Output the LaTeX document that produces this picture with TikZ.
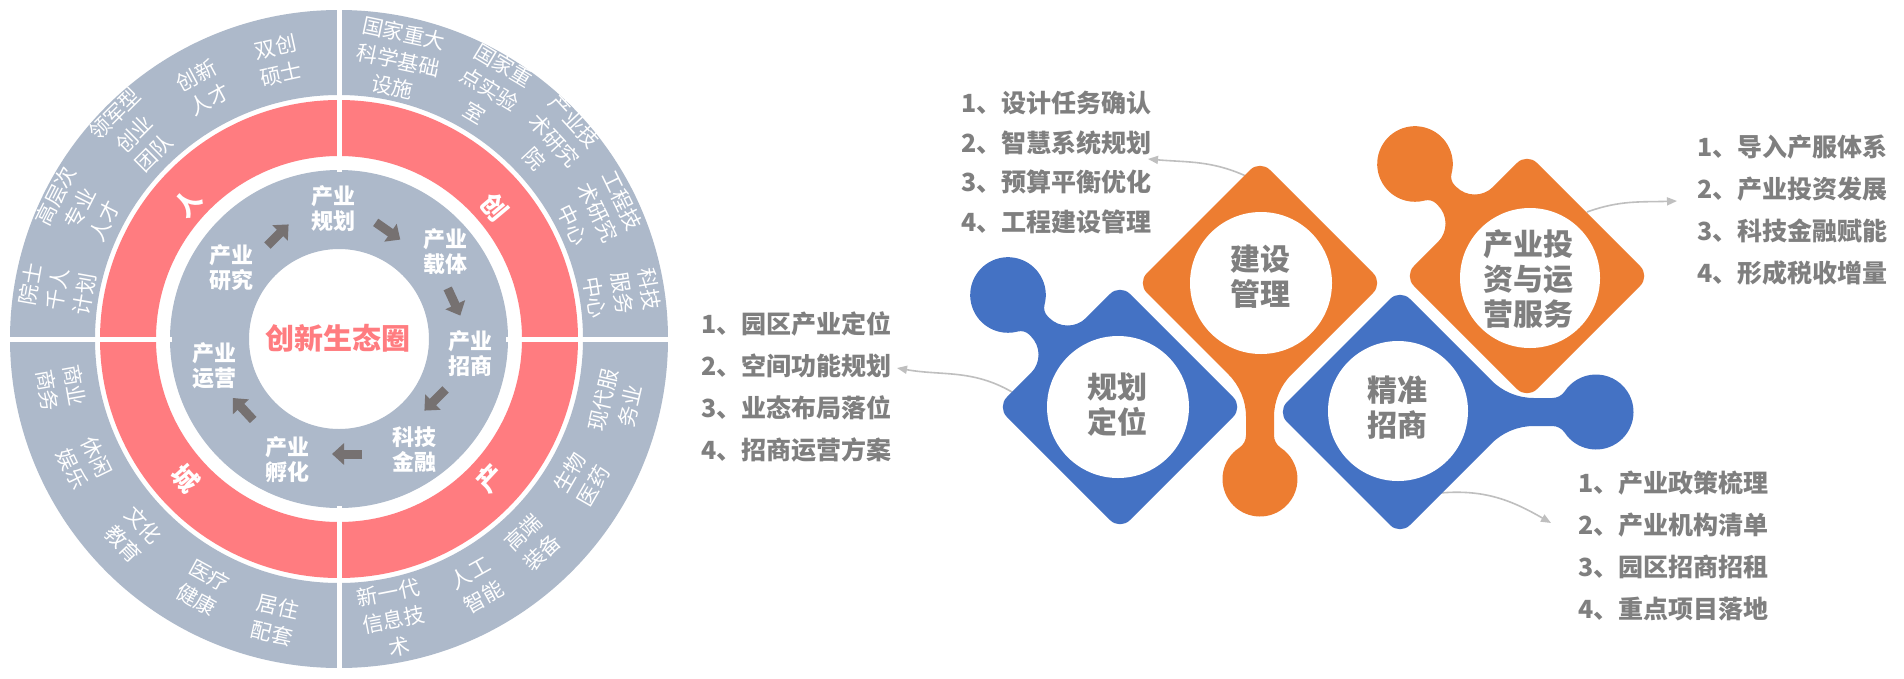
\documentclass[tikz,border=0pt]{standalone}
\usepackage{fontspec}
\setmainfont{Noto Sans CJK SC}
\usetikzlibrary{arrows.meta}
\definecolor{ringgray}{HTML}{ADB9CA}
\definecolor{ringred}{HTML}{FF7C80}
\definecolor{arrgray}{HTML}{767171}
\definecolor{pblue}{HTML}{4472C4}
\definecolor{porange}{HTML}{ED7D31}
\definecolor{txtgray}{HTML}{7F7F7F}
\definecolor{lgray}{HTML}{BFBFBF}
% side knob piece (local square frame, knob on +v side)
\def\sideknob{(-73,-87) -- (73,-87) arc[start angle=-90,end angle=0,radius=14] -- (87,73) arc[start angle=0,end angle=90,radius=14] -- (39,87) arc[start angle=270,end angle=180,radius=26] -- (13,115.33) arc[start angle=180,end angle=120.13,radius=12] arc[start angle=-59.87,end angle=239.87,radius=37.8] arc[start angle=59.87,end angle=0,radius=12] -- (-13,113) arc[start angle=0,end angle=-90,radius=26] -- (-73,87) arc[start angle=90,end angle=180,radius=14] -- (-87,-73) arc[start angle=180,end angle=270,radius=14] -- cycle}
% vertex knob piece (local diamond frame, knob at +u vertex)
\def\vertexknob{(9.9,-113.1) -- (91.42,-31.57) arc[start angle=135,end angle=90,radius=60] -- (152.24,-14) arc[start angle=90,end angle=33.53,radius=15] arc[start angle=-146.47,end angle=146.47,radius=37.5] arc[start angle=-33.53,end angle=-90,radius=15] -- (133.85,14) arc[start angle=270,end angle=225,radius=60] -- (9.9,113.1) arc[start angle=45,end angle=135,radius=14] -- (-113.1,9.9) arc[start angle=135,end angle=225,radius=14] -- (-9.9,-113.1) arc[start angle=225,end angle=315,radius=14] -- cycle}
\begin{document}
\begin{tikzpicture}[x=1pt,y=1pt,
  outlbl/.style={text=white, align=center, font=\fontsize{21}{27.5}\selectfont, inner sep=0},
  inlbl/.style={text=white, align=center, font=\fontsize{22}{25}\selectfont\bfseries, inner sep=0},
  redlbl/.style={text=white, font=\fontsize{26}{30}\selectfont\bfseries, inner sep=0},
  blockarrow/.style={draw=arrgray, line width=9pt, -{Triangle[length=12pt,width=21pt]}},
  conn/.style={draw=lgray, line width=1.6pt, -{Triangle[length=10pt,width=8pt]}},
  listA/.style={text=txtgray, align=left, anchor=west, inner sep=0, font=\fontsize{25}{39.5}\selectfont\bfseries},
  listB/.style={text=txtgray, align=left, anchor=west, inner sep=0, font=\fontsize{25}{42}\selectfont\bfseries},
  piecelbl/.style={text=txtgray, align=center, inner sep=0, font=\fontsize{30}{35}\selectfont\bfseries}
]
\useasboundingbox (0,0) rectangle (1904,-678);
\fill[white] (0,0) rectangle (1904,-678);

% ---------------- circle diagram ----------------
\coordinate (cen) at (339,-339);
\fill[ringgray, even odd rule] (cen) circle[radius=329] (cen) circle[radius=244];
\fill[ringred, even odd rule] (cen) circle[radius=239] (cen) circle[radius=183];
\fill[ringgray, even odd rule] (cen) circle[radius=169] (cen) circle[radius=90];
\draw[white, line width=5pt] (339,-172) -- (339,-4);
\draw[white, line width=5pt] (339,-506) -- (339,-674);
\draw[white, line width=5pt] (172,-339) -- (4,-339);
\draw[white, line width=5pt] (506,-339) -- (674,-339);

\node[font=\fontsize{29}{33}\selectfont\bfseries, text=ringred, inner sep=0] (ctr) at (338,-338) {创新生态圈};

% inner ring
\node[inlbl] (ghA) at (333,-209) {产业\\规划};
\node[inlbl] (ghB) at (445,-252) {产业\\载体};
\node[inlbl] (ghC) at (470,-354) {产业\\招商};
\node[inlbl] (ghD) at (414,-450) {科技\\金融};
\node[inlbl] (ghE) at (287,-460) {产业\\孵化};
\node[inlbl] (ghF) at (214,-366) {产业\\运营};
\node[inlbl] (ghG) at (231,-268) {产业\\研究};

\coordinate (a1s) at (267.4,-245.6); \coordinate (a1e) at (288.6,-224.4);
\coordinate (a2s) at (375.7,-222.4); \coordinate (a2e) at (400.3,-239.6);
\coordinate (a3s) at (447.7,-288.4); \coordinate (a3e) at (460.3,-315.6);
\coordinate (a4s) at (445.6,-389.4); \coordinate (a4e) at (424.4,-410.6);
\coordinate (a5s) at (362,-454);     \coordinate (a5e) at (332,-454);
\coordinate (a6s) at (253.2,-420);   \coordinate (a6e) at (232.8,-398);
\draw[blockarrow] (a1s) -- (a1e);
\draw[blockarrow] (a2s) -- (a2e);
\draw[blockarrow] (a3s) -- (a3e);
\draw[blockarrow] (a4s) -- (a4e);
\draw[blockarrow] (a5s) -- (a5e);
\draw[blockarrow] (a6s) -- (a6e);

% red ring
\node[redlbl, rotate=48] (rR) at (188,-203) {人};
\node[redlbl, rotate=-50] (rC) at (494,-207) {创};
\node[redlbl, rotate=47] (rP) at (490,-478) {产};
\node[redlbl, rotate=-48] (rS) at (186,-478) {城};

% outer ring, top-left
\node[outlbl, rotate=12.3] (o1) at ([shift={(102.3:285)}]cen) {双创\\硕士};
\node[outlbl, rotate=28.4] (o2) at ([shift={(118.4:286)}]cen) {创新\\人才};
\node[outlbl, rotate=44.9] (o3) at ([shift={(134.9:290)}]cen) {领军型\\创业\\团队};
\node[outlbl, rotate=63.2] (o4) at ([shift={(153.2:290)}]cen) {高层次\\专业\\人才};
\node[outlbl, rotate=80] (o5) at ([shift={(170:286)}]cen) {院士\\千人\\计划};
% top-right
\node[outlbl, rotate=-12] (o6) at ([shift={(78:285)}]cen) {国家重大\\科学基础\\设施};
\node[outlbl, rotate=-31] (o7) at ([shift={(59:292)}]cen) {国家重\\点实验\\室};
\node[outlbl, rotate=-47.3] (o8) at ([shift={(42.7:293)}]cen) {产业技\\术研究\\院};
\node[outlbl, rotate=-64] (o9) at ([shift={(26:288)}]cen) {工程技\\术研究\\中心};
\node[outlbl, rotate=-80.8] (o10) at ([shift={(9.2:287)}]cen) {科技\\服务\\中心};
% bottom-right
\node[outlbl, rotate=77] (o11) at ([shift={(-13:285)}]cen) {现代服\\务业};
\node[outlbl, rotate=60] (o12) at ([shift={(-30:280)}]cen) {生物\\医药};
\node[outlbl, rotate=43.6] (o13) at ([shift={(-46.4:281)}]cen) {高端\\装备};
\node[outlbl, rotate=29.3] (o14) at ([shift={(-60.7:282)}]cen) {人工\\智能};
\node[outlbl, rotate=11] (o15) at ([shift={(-79:286)}]cen) {新一代\\信息技\\术};
% bottom-left
\node[outlbl, rotate=-12.8] (o16) at ([shift={(-102.8:288)}]cen) {居住\\配套};
\node[outlbl, rotate=-28.7] (o17) at ([shift={(-118.7:283)}]cen) {医疗\\健康};
\node[outlbl, rotate=-46.4] (o18) at ([shift={(-136.4:284)}]cen) {文化\\教育};
\node[outlbl, rotate=-64] (o19) at ([shift={(-154:283)}]cen) {休闲\\娱乐};
\node[outlbl, rotate=-80] (o20) at ([shift={(-170:282)}]cen) {商业\\商务};

% ---------------- puzzle ----------------
\coordinate (sB) at (1248,-177); \coordinate (eB) at (1148,-159);
\coordinate (sD) at (1587,-212); \coordinate (eD) at (1677,-201);
\coordinate (sA) at (1012,-392); \coordinate (eA) at (897,-368);
\coordinate (sC) at (1440,-493); \coordinate (eC) at (1551,-523);
\draw[conn] (sB) to[out=155,in=-5] (eB);
\draw[conn] (sD) to[out=20,in=182] (eD);
\draw[conn] (sA) to[out=150,in=-10] (eA);
\draw[conn] (sC) to[out=5,in=150] (eC);

\begin{scope}[shift={(1120,-407)},rotate=45]
  \fill[pblue] \sideknob;
\end{scope}
\begin{scope}[shift={(1527,-276)},rotate=45]
  \fill[porange] \sideknob;
\end{scope}
\begin{scope}[shift={(1260,-283)},rotate=-90]
  \fill[porange] \vertexknob;
\end{scope}
\begin{scope}[shift={(1400,-412)}]
  \fill[pblue] \vertexknob;
\end{scope}

\fill[white] (1118,-407) circle[radius=71];
\fill[white] (1261,-283) circle[radius=71];
\fill[white] (1398,-411) circle[radius=70];
\fill[white] (1530,-278) circle[radius=70];

\node[piecelbl] (pA) at (1117,-405) {规划\\定位};
\node[piecelbl] (pB) at (1260,-277) {建设\\管理};
\node[piecelbl] (pC) at (1397,-408) {精准\\招商};
\node[piecelbl] (pD) at (1528,-279) {产业投\\资与运\\营服务};

\node[listA] (lstB) at (961,-162.5) {1、设计任务确认\\2、智慧系统规划\\3、预算平衡优化\\4、工程建设管理};
\node[listB] (lstA) at (701,-386.5) {1、园区产业定位\\2、空间功能规划\\3、业态布局落位\\4、招商运营方案};
\node[listB] (lstD) at (1697,-210) {1、导入产服体系\\2、产业投资发展\\3、科技金融赋能\\4、形成税收增量};
\node[listB] (lstC) at (1578,-545.5) {1、产业政策梳理\\2、产业机构清单\\3、园区招商招租\\4、重点项目落地};
\end{tikzpicture}
\end{document}
